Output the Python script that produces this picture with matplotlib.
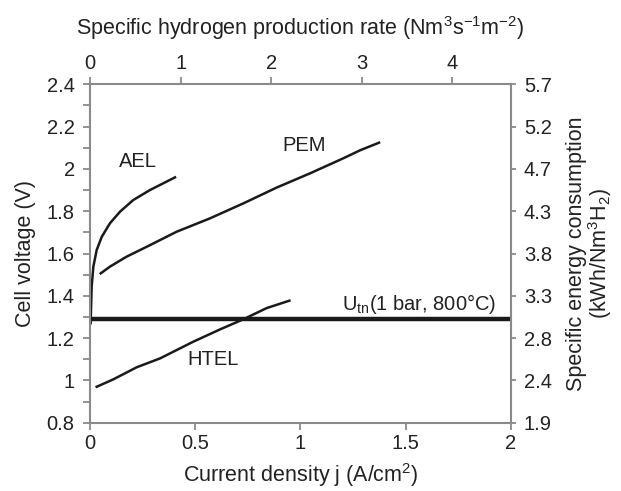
import matplotlib
matplotlib.use("Agg")
import matplotlib.pyplot as plt
import numpy as np

plt.rcParams['font.family'] = ['Liberation Sans', 'DejaVu Sans']
plt.rcParams['mathtext.fontset'] = 'custom'
plt.rcParams['mathtext.rm'] = 'Liberation Sans'
plt.rcParams['mathtext.it'] = 'Liberation Sans'

# Data (current density j in A/cm^2, cell voltage in V)
ael_j = [0.003, 0.008, 0.016, 0.032, 0.056, 0.095, 0.143, 0.206, 0.285, 0.404]
ael_v = [1.27, 1.443, 1.538, 1.617, 1.679, 1.743, 1.798, 1.853, 1.900, 1.960]

pem_j = [0.051, 0.095, 0.174, 0.270, 0.412, 0.570, 0.729, 0.888, 1.046, 1.204, 1.284, 1.374]
pem_v = [1.506, 1.538, 1.585, 1.632, 1.703, 1.766, 1.837, 1.912, 1.979, 2.050, 2.088, 2.124]

htel_j = [0.032, 0.111, 0.222, 0.333, 0.491, 0.618, 0.729, 0.840, 0.948]
htel_v = [0.970, 1.005, 1.062, 1.104, 1.183, 1.241, 1.289, 1.342, 1.377]

utn_v = 1.29

left_ticks = [0.8, 1.0, 1.2, 1.4, 1.6, 1.8, 2.0, 2.2, 2.4]
left_labels = ["0.8", "1", "1.2", "1.4", "1.6", "1.8", "2", "2.2", "2.4"]
right_labels = ["1.9", "2.4", "2.8", "3.3", "3.8", "4.3", "4.7", "5.2", "5.7"]
bottom_ticks = [0, 0.5, 1, 1.5, 2]
bottom_labels = ["0", "0.5", "1", "1.5", "2"]
top_ticks = [0, 1, 2, 3, 4]
rate_per_j = 2.3217  # top-axis units per A/cm^2

gray = '#8a8a8a'
txt = '#222222'
fs = 14.5
fl = 15.5

fig = plt.figure(figsize=(6.21, 4.91), dpi=100)
ax = fig.add_axes([0.1449, 0.1391, 0.6775, 0.6892])

ax.plot(ael_j, ael_v, color='#1a1a1a', lw=1.8)
ax.plot(pem_j, pem_v, color='#1a1a1a', lw=1.8)
ax.plot(htel_j, htel_v, color='#1a1a1a', lw=1.8)
ax.axhline(utn_v, color='#1a1a1a', lw=3.2)

ax.set_xlim(0, 2)
ax.set_ylim(0.8, 2.4)
ax.set_xticks(bottom_ticks)
ax.set_xticklabels(bottom_labels, fontsize=fs, color=txt)
ax.set_yticks(left_ticks)
ax.set_yticklabels(left_labels, fontsize=fs, color=txt)
ax.set_yticks(np.arange(0.9, 2.4, 0.2), minor=True)
ax.tick_params(axis='both', which='both', direction='out', color=gray, width=1.3)
ax.tick_params(axis='y', which='both', length=5, pad=6)
ax.tick_params(axis='x', which='major', length=5, pad=3)

for s in ax.spines.values():
    s.set_color(gray)
    s.set_linewidth(1.5)

ax.set_xlabel("Current density j (A/cm$^2$)", fontsize=fl, color=txt, labelpad=6)
ax.set_ylabel("Cell voltage (V)", fontsize=fl, color=txt, labelpad=8)

ax.text(0.228, 2.033, "AEL", fontsize=fs, ha='center', va='center', color=txt)
ax.text(1.02, 2.11, "PEM", fontsize=fs, ha='center', va='center', color=txt)
ax.text(0.585, 1.101, "HTEL", fontsize=fs, ha='center', va='center', color=txt)
ax.text(1.93, 1.305, "U$_{\\mathrm{tn}}$(1 bar, 800°C)", fontsize=fs, ha='right', va='bottom', color=txt)

# Right axis
ax2 = ax.twinx()
ax2.set_ylim(0.8, 2.4)
ax2.set_yticks(left_ticks)
ax2.set_yticklabels(right_labels, fontsize=fs, color=txt)
ax2.tick_params(axis='y', direction='out', length=3.5, color=gray, width=1.3, pad=6)
for s in ax2.spines.values():
    s.set_visible(False)
ax2.set_ylabel("Specific energy consumption\n(kWh/Nm$^3$H$_2$)", fontsize=fl, color=txt,
               labelpad=10, linespacing=0.95)

# Top axis
ax3 = ax.twiny()
ax3.set_xlim(0, 2 * rate_per_j)
ax3.set_xticks(top_ticks)
ax3.set_xticklabels([str(t) for t in top_ticks], fontsize=fs, color=txt)
ax3.tick_params(axis='x', direction='out', length=5, color=gray, width=1.3, pad=3)
for s in ax3.spines.values():
    s.set_visible(False)
ax3.set_xlabel("Specific hydrogen production rate (Nm$^3$s$^{-1}$m$^{-2}$)", fontsize=fl,
               color=txt, labelpad=14)

fig.savefig("out.png", dpi=100)
